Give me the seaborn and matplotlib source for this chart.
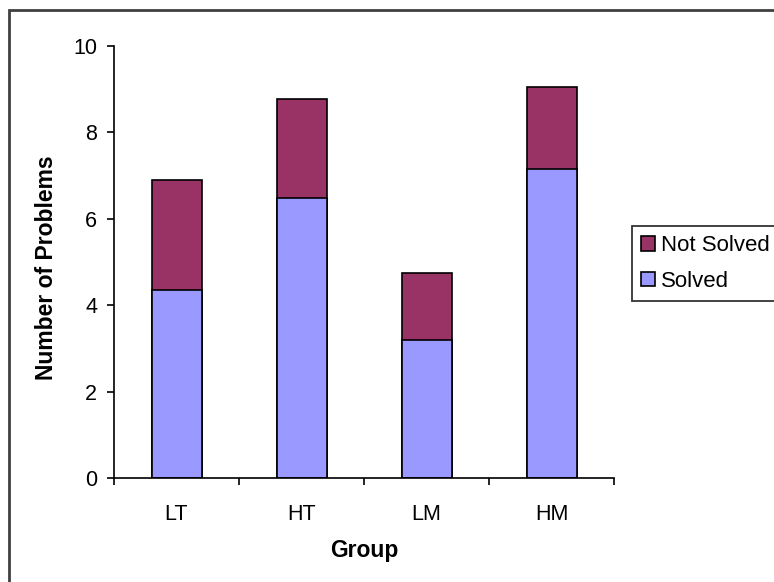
import matplotlib
matplotlib.use("Agg")
import matplotlib.pyplot as plt
import seaborn as sns
import pandas as pd
from matplotlib.patches import Patch, Rectangle

groups = ["LT", "HT", "LM", "HM"]
solved = [4.35, 6.48, 3.2, 7.15]
not_solved = [2.55, 2.3, 1.55, 1.9]
series_names = ["Not Solved", "Solved"]
y_ticks = [0, 2, 4, 6, 8, 10]

sns.set_style("white")
plt.rcParams["font.family"] = ["Liberation Sans", "DejaVu Sans"]
plt.rcParams["text.color"] = "black"
plt.rcParams["xtick.color"] = "black"
plt.rcParams["ytick.color"] = "black"
plt.rcParams["axes.labelcolor"] = "black"

df = pd.DataFrame({"Group": groups, "Solved": solved, "Not Solved": not_solved})
df["Total"] = df["Solved"] + df["Not Solved"]

fig = plt.figure(figsize=(7.74, 5.82), dpi=100)
ax = fig.add_axes([114 / 774, 104 / 582, 500 / 774, 432 / 582])

c_not = "#993366"
c_sol = "#9999FF"

sns.barplot(data=df, x="Group", y="Total", color=c_not, width=0.4,
            edgecolor="black", linewidth=1.2, saturation=1, ax=ax)
sns.barplot(data=df, x="Group", y="Solved", color=c_sol, width=0.4,
            edgecolor="black", linewidth=1.2, saturation=1, ax=ax)

ax.set_xlim(-0.5, len(groups) - 0.5)
ax.set_ylim(0, 10)
ax.set_yticks(y_ticks)
ax.set_xticks(range(len(groups)))
ax.set_xticklabels(groups)
ax.set_xticks([i - 0.5 for i in range(len(groups) + 1)], minor=True)

for s in ["top", "right"]:
    ax.spines[s].set_visible(False)
for s in ["left", "bottom"]:
    ax.spines[s].set_color("black")
    ax.spines[s].set_linewidth(1.2)

ax.tick_params(axis="y", which="major", direction="out", length=5, width=1.2,
               color="black", labelsize=15.5, pad=7, left=True)
ax.tick_params(axis="x", which="major", length=0, labelsize=15.5, pad=19)
ax.tick_params(axis="x", which="minor", direction="out", length=5, width=1.2,
               color="black", bottom=True)

ax.set_xlabel("Group", fontsize=16.5, fontweight="bold")
ax.set_ylabel("Number of Problems", fontsize=16.5, fontweight="bold")
ax.xaxis.set_label_coords(0.5, -0.167)
ax.xaxis.label.set_va("center")
ax.yaxis.set_label_coords(-0.136, 0.486)
ax.yaxis.label.set_va("center")

handles = [Patch(facecolor=c_not, edgecolor="black", linewidth=1.2),
           Patch(facecolor=c_sol, edgecolor="black", linewidth=1.2)]
leg = fig.legend(handles, series_names, loc="upper left",
                 bbox_to_anchor=(632 / 774, 1 - 226 / 582),
                 bbox_transform=fig.transFigure, fontsize=16,
                 frameon=True, fancybox=False, handlelength=0.6,
                 handleheight=0.6, handletextpad=0.3, borderpad=0.42,
                 labelspacing=0.66, borderaxespad=0)
leg.get_frame().set_edgecolor("black")
leg.get_frame().set_linewidth(1.3)

# outer chart-area frame
fig.patches.append(Rectangle((9 / 774, -0.1), 1.2, 1.1 - 10 / 582,
                             transform=fig.transFigure, fill=False,
                             edgecolor="#404040", linewidth=2))

fig.savefig("out.png", dpi=100)
